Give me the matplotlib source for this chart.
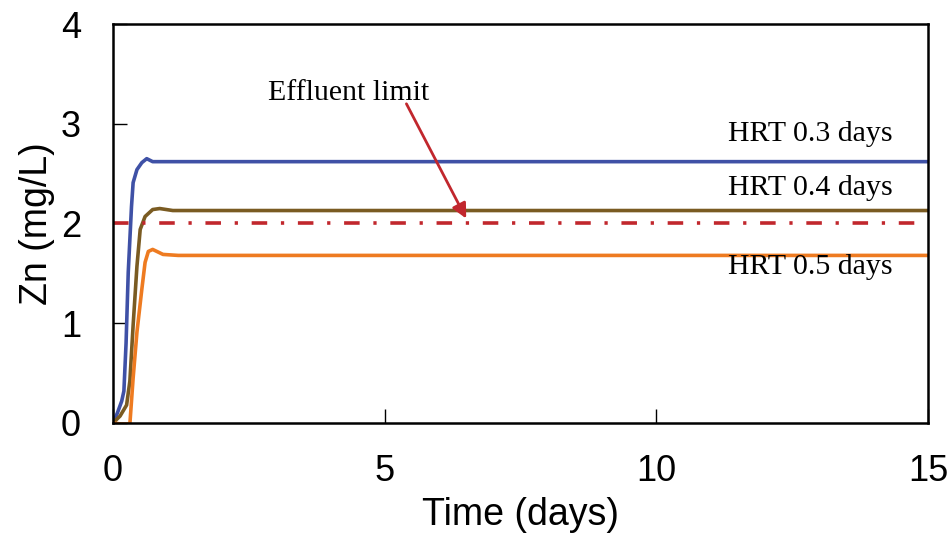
import numpy as np
import matplotlib.pyplot as plt

plt.rcParams['font.family'] = ['Liberation Sans', 'DejaVu Sans']

# HRT 0.3 days
t_03 = [0, 0.08, 0.16, 0.2, 0.24, 0.28, 0.34, 0.37, 0.44, 0.53, 0.62, 0.73, 1.0, 15]
zn_03 = [0, 0.1, 0.22, 0.32, 0.8, 1.51, 2.17, 2.41, 2.54, 2.61, 2.65, 2.62, 2.62, 2.62]
# HRT 0.4 days
t_04 = [0, 0.13, 0.25, 0.31, 0.37, 0.44, 0.5, 0.59, 0.73, 0.86, 1.1, 15]
zn_04 = [0, 0.07, 0.18, 0.42, 0.98, 1.57, 1.94, 2.07, 2.14, 2.15, 2.13, 2.13]
# HRT 0.5 days
t_05 = [0, 0.15, 0.31, 0.37, 0.44, 0.53, 0.59, 0.65, 0.73, 0.92, 1.2, 15]
zn_05 = [0, -0.01, -0.01, 0.45, 0.91, 1.34, 1.61, 1.72, 1.74, 1.69, 1.68, 1.68]

limit = 2.0
hrt_labels = ['HRT 0.3 days', 'HRT 0.4 days', 'HRT 0.5 days']
hrt_label_y = [2.9, 2.36, 1.56]

fig = plt.figure(figsize=(9.53, 5.37), dpi=100)
ax = fig.add_axes([0.1186, 0.2123, 0.8552, 0.7430])

ax.plot(t_03, zn_03, color='#3F51A6', lw=2.6, solid_joinstyle='round')
ax.plot(t_04, zn_04, color='#7A5B22', lw=2.6, solid_joinstyle='round')
ax.plot(t_05, zn_05, color='#EE7B21', lw=2.6, solid_joinstyle='round')
ax.axhline(limit, color='#C1272D', lw=2.6, linestyle=(0, (4.3, 3.8, 0.9, 3.8)))

for lab, yy in zip(hrt_labels, hrt_label_y):
    ax.text(12.83, yy, lab, ha='center', va='center', fontsize=21.5,
            family='Liberation Serif')

ax.text(4.33, 3.31, 'Effluent limit', ha='center', va='center', fontsize=21.5,
        family='Liberation Serif')
ax.annotate('', xy=(6.5, 2.05), xytext=(5.4, 3.2),
            arrowprops=dict(arrowstyle='-|>', color='#C1272D', lw=2,
                            mutation_scale=22, shrinkA=0, shrinkB=0))

ax.set_xlim(0, 15)
ax.set_ylim(0, 4)
ax.set_xticks([0, 5, 10, 15])
ax.set_yticks([0, 1, 2, 3, 4])
ax.tick_params(direction='in', length=10, width=1, labelsize=26, pad=22)
ax.tick_params(axis='y', pad=23)
for s in ax.spines.values():
    s.set_linewidth(1.8)

ax.set_xlabel('Time (days)', fontsize=27, labelpad=6)
ax.set_ylabel('Zn (mg/L)', fontsize=27, labelpad=4)

fig.savefig('out.png', dpi=100)
